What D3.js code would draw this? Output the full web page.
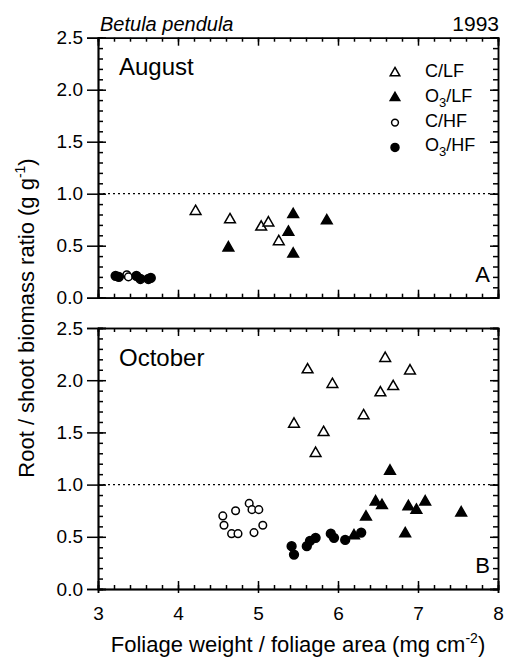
<!DOCTYPE html>
<html>
<head>
<meta charset="utf-8">
<script src="https://cdn.jsdelivr.net/npm/d3@7"></script>
<style>
body { margin: 0; background: #fff; }
svg { font-family: "Liberation Sans", Arial, sans-serif; }
.axis path, .axis line { stroke: #000; stroke-width: 1.5; }
.axis text { font-size: 19px; fill: #000; }
</style>
</head>
<body>
<div id="chart"></div>
<script>
// August (panel A) data
var augCLF_x = [4.22, 4.65, 5.04, 5.13, 5.26];
var augCLF_y = [0.83, 0.75, 0.68, 0.72, 0.54];
var augOLF_x = [4.63, 5.38, 5.44, 5.44, 5.86];
var augOLF_y = [0.48, 0.63, 0.80, 0.42, 0.74];
var augCHF_x = [3.36, 3.38];
var augCHF_y = [0.22, 0.20];
var augOHF_x = [3.22, 3.26, 3.48, 3.53, 3.63, 3.66];
var augOHF_y = [0.21, 0.20, 0.21, 0.18, 0.18, 0.19];

// October (panel B) data
var octCLF_x = [6.59, 5.62, 6.90, 5.93, 6.69, 6.53, 6.32, 5.45, 5.82, 5.72];
var octCLF_y = [2.21, 2.10, 2.09, 1.96, 1.94, 1.88, 1.66, 1.58, 1.50, 1.30];
var octOLF_x = [6.65, 6.47, 6.55, 6.88, 6.98, 7.09, 7.54, 6.84, 6.35, 6.20];
var octOLF_y = [1.13, 0.835, 0.80, 0.79, 0.755, 0.835, 0.73, 0.53, 0.69, 0.51];
var octCHF_x = [4.56, 4.575, 4.67, 4.75, 4.72, 4.89, 4.925, 5.01, 4.95, 5.06];
var octCHF_y = [0.70, 0.61, 0.53, 0.53, 0.75, 0.82, 0.76, 0.76, 0.54, 0.61];
var octOHF_x = [5.42, 5.45, 5.61, 5.65, 5.72, 5.91, 5.95, 6.09, 6.29];
var octOHF_y = [0.41, 0.33, 0.41, 0.46, 0.49, 0.53, 0.49, 0.47, 0.54];

var xTicks = [3, 4, 5, 6, 7, 8];
var yTicks = [0, 0.5, 1.0, 1.5, 2.0, 2.5];
var xMinor = d3.range(3, 8.01, 0.2);
var yMinor = d3.range(0, 2.51, 0.1);

var width = 505, height = 657;
var left = 98, right = 498;

var svg = d3.select('#chart').append('svg')
	.attr('width', width)
	.attr('height', height);

var xScale = d3.scaleLinear().domain([3, 8]).range([left, right]);

function zip(xs, ys) {
	return xs.map(function(d, i) { return [d, ys[i]]; });
}

function drawPanel(top, bottom, sets, month, monthY, letter, showXLabels) {
	var yScale = d3.scaleLinear().domain([0, 2.5]).range([bottom, top]);

	// minor ticks (inside)
	svg.append('g').attr('class', 'axis')
		.attr('transform', 'translate(0,' + bottom + ')')
		.call(d3.axisBottom(xScale).tickValues(xMinor).tickSize(-4).tickFormat(''));
	svg.append('g').attr('class', 'axis')
		.attr('transform', 'translate(0,' + top + ')')
		.call(d3.axisTop(xScale).tickValues(xMinor).tickSize(-4).tickFormat(''));
	svg.append('g').attr('class', 'axis')
		.attr('transform', 'translate(' + left + ',0)')
		.call(d3.axisLeft(yScale).tickValues(yMinor).tickSize(-5).tickFormat(''));
	svg.append('g').attr('class', 'axis')
		.attr('transform', 'translate(' + right + ',0)')
		.call(d3.axisRight(yScale).tickValues(yMinor).tickSize(-5).tickFormat(''));

	// major ticks inside
	svg.append('g').attr('class', 'axis')
		.attr('transform', 'translate(0,' + bottom + ')')
		.call(d3.axisBottom(xScale).tickValues(xTicks).tickSize(-8).tickFormat(''));
	svg.append('g').attr('class', 'axis')
		.attr('transform', 'translate(0,' + top + ')')
		.call(d3.axisTop(xScale).tickValues(xTicks).tickSize(-8).tickFormat(''));
	svg.append('g').attr('class', 'axis')
		.attr('transform', 'translate(' + left + ',0)')
		.call(d3.axisRight(yScale).tickValues(yTicks).tickSize(8).tickFormat(''));
	svg.append('g').attr('class', 'axis')
		.attr('transform', 'translate(' + right + ',0)')
		.call(d3.axisRight(yScale).tickValues(yTicks).tickSize(-8).tickFormat(''));

	// y labels + outward major ticks
	svg.append('g').attr('class', 'axis')
		.attr('transform', 'translate(' + left + ',0)')
		.call(d3.axisLeft(yScale).tickValues(yTicks).tickSize(11).tickPadding(4).tickFormat(d3.format('.1f')));

	svg.append('g').attr('class', 'axis')
		.attr('transform', 'translate(0,' + bottom + ')')
		.call(d3.axisBottom(xScale).tickValues(xTicks).tickSize(showXLabels ? 4 : 0).tickPadding(showXLabels ? 14 : 0)
			.tickFormat(showXLabels ? d3.format('d') : ''));

	// dotted 1.0 line
	svg.append('line')
		.attr('x1', left).attr('x2', right)
		.attr('y1', yScale(1)).attr('y2', yScale(1))
		.attr('stroke', '#000').attr('stroke-width', 1.3)
		.attr('stroke-dasharray', '2,3');

	var tri = d3.symbol().type(d3.symbolTriangle).size(50);

	sets.forEach(function(s) {
		var pts = zip(s.x, s.y);
		var g = svg.append('g');
		if (s.shape == 'tri') {
			g.selectAll('path').data(pts).enter().append('path')
				.attr('d', tri)
				.attr('transform', function(d) { return 'translate(' + xScale(d[0]) + ',' + yScale(d[1]) + ')'; })
				.attr('fill', s.filled ? '#000' : '#fff')
				.attr('stroke', '#000').attr('stroke-width', 1.5);
		} else {
			g.selectAll('circle').data(pts).enter().append('circle')
				.attr('cx', function(d) { return xScale(d[0]); })
				.attr('cy', function(d) { return yScale(d[1]); })
				.attr('r', s.filled ? 4.4 : 3.8)
				.attr('fill', s.filled ? '#000' : '#fff')
				.attr('stroke', '#000').attr('stroke-width', 1.5);
		}
	});

	svg.append('text').attr('x', left + 21).attr('y', monthY)
		.style('font-size', '24px').text(month);
	svg.append('text').attr('x', right - 8).attr('y', bottom - 16)
		.attr('text-anchor', 'end')
		.style('font-size', '22px').text(letter);
}

drawPanel(37.7, 297.7, [
	{ x: augCHF_x, y: augCHF_y, shape: 'circle', filled: false },
	{ x: augOHF_x, y: augOHF_y, shape: 'circle', filled: true },
	{ x: augCLF_x, y: augCLF_y, shape: 'tri', filled: false },
	{ x: augOLF_x, y: augOLF_y, shape: 'tri', filled: true }
], 'August', 75, 'A', false);

drawPanel(328, 589, [
	{ x: octCHF_x, y: octCHF_y, shape: 'circle', filled: false },
	{ x: octOHF_x, y: octOHF_y, shape: 'circle', filled: true },
	{ x: octCLF_x, y: octCLF_y, shape: 'tri', filled: false },
	{ x: octOLF_x, y: octOLF_y, shape: 'tri', filled: true }
], 'October', 366, 'B', true);

// legend
var legend = [
	{ shape: 'tri', filled: false, label: 'C/LF', sub: false },
	{ shape: 'tri', filled: true, label: 'O/LF', sub: true },
	{ shape: 'circle', filled: false, label: 'C/HF', sub: false },
	{ shape: 'circle', filled: true, label: 'O/HF', sub: true }
];
var lg = svg.append('g');
legend.forEach(function(d, i) {
	var y = 73 + i * 24.8;
	if (d.shape == 'tri') {
		lg.append('path').attr('d', d3.symbol().type(d3.symbolTriangle).size(40))
			.attr('transform', 'translate(395,' + y + ')')
			.attr('fill', d.filled ? '#000' : '#fff')
			.attr('stroke', '#000').attr('stroke-width', 1.5);
	} else {
		lg.append('circle').attr('cx', 395).attr('cy', y)
			.attr('r', d.filled ? 4 : 3.4)
			.attr('fill', d.filled ? '#000' : '#fff')
			.attr('stroke', '#000').attr('stroke-width', 1.5);
	}
	var t = lg.append('text').attr('x', 425).attr('y', y + 4).style('font-size', '18px');
	if (d.sub) {
		t.append('tspan').text('O');
		t.append('tspan').attr('dy', 5).style('font-size', '13px').text('3');
		t.append('tspan').attr('dy', -5).text('/' + d.label.slice(2));
	} else {
		t.text(d.label);
	}
});

// header texts
svg.append('text').attr('x', 100).attr('y', 31)
	.style('font-size', '20px').style('font-style', 'italic').text('Betula pendula');
svg.append('text').attr('x', 499).attr('y', 31).attr('text-anchor', 'end')
	.style('font-size', '21px').text('1993');

// x title
var xt = svg.append('text').attr('x', 298).attr('y', 652).attr('text-anchor', 'middle')
	.style('font-size', '22px');
xt.append('tspan').text('Foliage weight / foliage area (mg cm');
xt.append('tspan').attr('dy', -9).style('font-size', '14px').text('-2');
xt.append('tspan').attr('dy', 9).text(')');

// y title
var yt = svg.append('text')
	.attr('transform', 'translate(34,318) rotate(-90)')
	.attr('text-anchor', 'middle')
	.style('font-size', '22px');
yt.append('tspan').text('Root / shoot biomass ratio (g g');
yt.append('tspan').attr('dy', -9).style('font-size', '14px').text('-1');
yt.append('tspan').attr('dy', 9).text(')');
</script>
</body>
</html>
